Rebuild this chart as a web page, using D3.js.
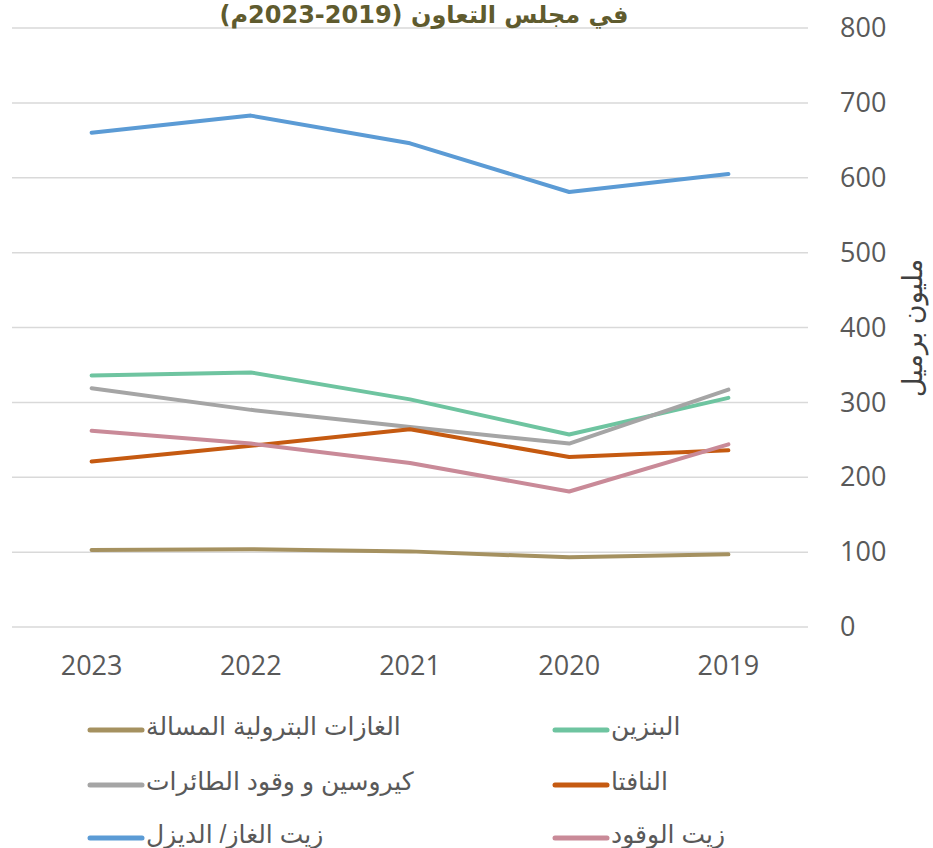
<!DOCTYPE html>
<html><head><meta charset="utf-8">
<script src="https://cdn.jsdelivr.net/npm/d3@7"></script>
<style>body{margin:0;background:#fff}svg{display:block}</style>
</head><body><div id="c"></div>
<script>
const years = ["2023","2022","2021","2020","2019"];
const seriesNames = ["الغازات البترولية المسالة","البنزين","كيروسين و وقود الطائرات","النافتا","زيت الغاز/ الديزل","زيت الوقود"];
const lpg      = [103,104,101,93,97];
const gasoline = [336,340,304,257,306];
const kerosene = [319,290,267,245,317];
const naphtha  = [221,242,264,227,236];
const diesel   = [660,683,646,581,605];
const fuelOil  = [262,245,219,181,244];
const yTicks = [0,100,200,300,400,500,600,700,800];
const colors = ["#A59160","#6EC4A0","#A5A5A5","#C55A11","#5B9BD5","#C98A98"];
const titleText = "في مجلس التعاون (2019-2023م)";
const yTitle = "مليون برميل";

const W=933,H=848;
const svg=d3.select("#c").append("svg").attr("width",W).attr("height",H);
const x=d3.scaleBand().domain(years).range([12,808]);
const y=d3.scaleLinear().domain([0,800]).range([627,28]);
const numFont="'Open Sans','Liberation Sans',sans-serif";
const arFont="'Liberation Sans','DejaVu Sans',sans-serif";

svg.append("g").selectAll("line").data(yTicks).join("line")
 .attr("x1",12).attr("x2",808).attr("y1",d=>y(d)).attr("y2",d=>y(d))
 .attr("stroke","#D9D9D9").attr("stroke-width",1.5);

const yAxis=d3.axisRight(y).tickValues(yTicks).tickSize(0).tickPadding(32);
const gy=svg.append("g").attr("transform","translate(808,0)").call(yAxis);
gy.select(".domain").remove();
gy.selectAll("text").attr("font-family",numFont).attr("font-size",27).attr("fill","#595959");

const xAxis=d3.axisBottom(x).tickSize(0).tickPadding(16);
const gx=svg.append("g").attr("transform","translate(0,640)").call(xAxis);
gx.select(".domain").remove();
gx.selectAll("text").attr("font-family",numFont).attr("font-size",27).attr("fill","#595959");

const data=[lpg,gasoline,kerosene,naphtha,diesel,fuelOil];
const line=d3.line().x((d,i)=>x(years[i])+x.bandwidth()/2).y(d=>y(d));
const drawOrder=[4,1,2,3,5,0];
drawOrder.forEach(k=>{
 svg.append("path").datum(data[k]).attr("d",line).attr("fill","none")
  .attr("stroke",colors[k]).attr("stroke-width",4).attr("stroke-linecap","round").attr("stroke-linejoin","round");
});

svg.append("text").attr("x",424).attr("y",23).attr("text-anchor","middle")
 .attr("font-family","'DejaVu Sans',sans-serif").attr("font-weight","bold").attr("font-size",24)
 .attr("fill","#5F5B2E").attr("direction","rtl").text(titleText);

svg.append("text").attr("transform","translate(922,328) rotate(-90)").attr("text-anchor","middle")
 .attr("font-family",arFont).attr("font-size",27).attr("fill","#404040").text(yTitle);

const legendPos=[[90,724],[555,724],[90,779],[555,779],[90,832],[555,832]];
seriesNames.forEach((n,k)=>{
 const [lx,ly]=legendPos[k];
 svg.append("line").attr("x1",lx).attr("x2",lx+52).attr("y1",ly+6).attr("y2",ly+6)
  .attr("stroke",colors[k]).attr("stroke-width",5).attr("stroke-linecap","round");
 svg.append("text").attr("x",lx+56).attr("y",ly+11).attr("font-family",arFont)
  .attr("font-size",25).attr("fill","#595959").text(n);
});
</script></body></html>
